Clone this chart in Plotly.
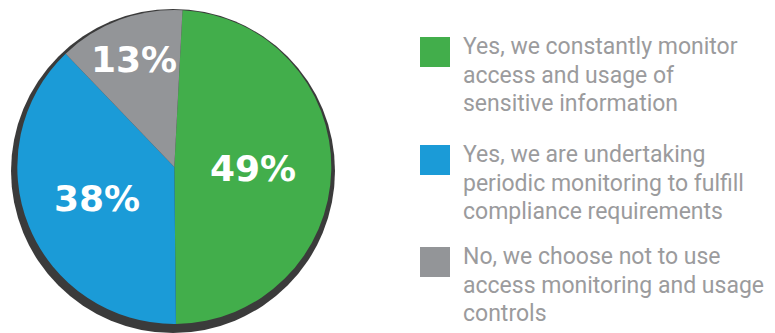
import math
import plotly.graph_objects as go

# ---- data ----
labels = [
    "Yes, we constantly monitor access and usage of sensitive information",
    "Yes, we are undertaking periodic monitoring to fulfill compliance requirements",
    "No, we choose not to use access monitoring and usage controls",
]
legend_lines = [
    ["Yes, we constantly monitor", "access and usage of", "sensitive information"],
    ["Yes, we are undertaking", "periodic monitoring to fulfill", "compliance requirements"],
    ["No, we choose not to use", "access monitoring and usage", "controls"],
]
values = [49, 38, 13]
colors = ["#42ae4b", "#1b9bd7", "#939598"]

# ---- layout constants (pixels) ----
W, H = 775, 333
cx, cy, R = 174.3, 167.0, 157.0
rotation = 3
label_r = [0.50, 0.53, 0.73]

fig = go.Figure()
fig.add_trace(go.Pie(
    labels=labels, values=values, sort=False, direction="clockwise",
    rotation=rotation, marker=dict(colors=colors, line=dict(width=0)),
    textinfo="none", hoverinfo="label+percent", showlegend=False,
    domain=dict(x=[(cx - R) / W, (cx + R) / W], y=[(H - cy - R) / H, (H - cy + R) / H]),
))

# shadow disk behind the pie
fig.add_shape(type="circle", xref="paper", yref="paper", layer="below",
              x0=11 / W, x1=335 / W, y0=0 / H, y1=(H - 9) / H,
              fillcolor="#3b3b3b", line=dict(width=0))

# percentage labels placed at slice mid-angles
total = sum(values)
start = rotation
annotations = []
for i, v in enumerate(values):
    span = 360 * v / total
    mid = math.radians(start + span / 2)
    start += span
    px = cx + R * label_r[i] * math.sin(mid)
    py = cy - R * label_r[i] * math.cos(mid)
    annotations.append(dict(
        x=px / W, y=(H - py) / H, xref="paper", yref="paper",
        text=f"{round(100 * v / total)}%", showarrow=False,
        xanchor="center", yanchor="middle",
        font=dict(family="DejaVu Sans", size=36, color="white", weight="bold"),
    ))

# legend: squares + wrapped text
sq_top = [37, 145, 247]
line_gap = 28.5
for i, lines in enumerate(legend_lines):
    t = sq_top[i]
    fig.add_shape(type="rect", xref="paper", yref="paper",
                  x0=420 / W, x1=450 / W, y0=(H - t - 30) / H, y1=(H - t) / H,
                  fillcolor=colors[i], line=dict(width=0))
    for k, line in enumerate(lines):
        top = t - 6 + k * line_gap
        annotations.append(dict(
            x=461 / W, y=(H - top) / H, xref="paper", yref="paper",
            text=line, showarrow=False, align="left",
            xanchor="left", yanchor="top",
            font=dict(family="Roboto", size=23, color="#9b9b9d"),
        ))

fig.update_layout(
    width=W, height=H, margin=dict(l=0, r=0, t=0, b=0),
    paper_bgcolor="white", plot_bgcolor="white",
    annotations=annotations, showlegend=False,
)
fig.write_html("out.html")
